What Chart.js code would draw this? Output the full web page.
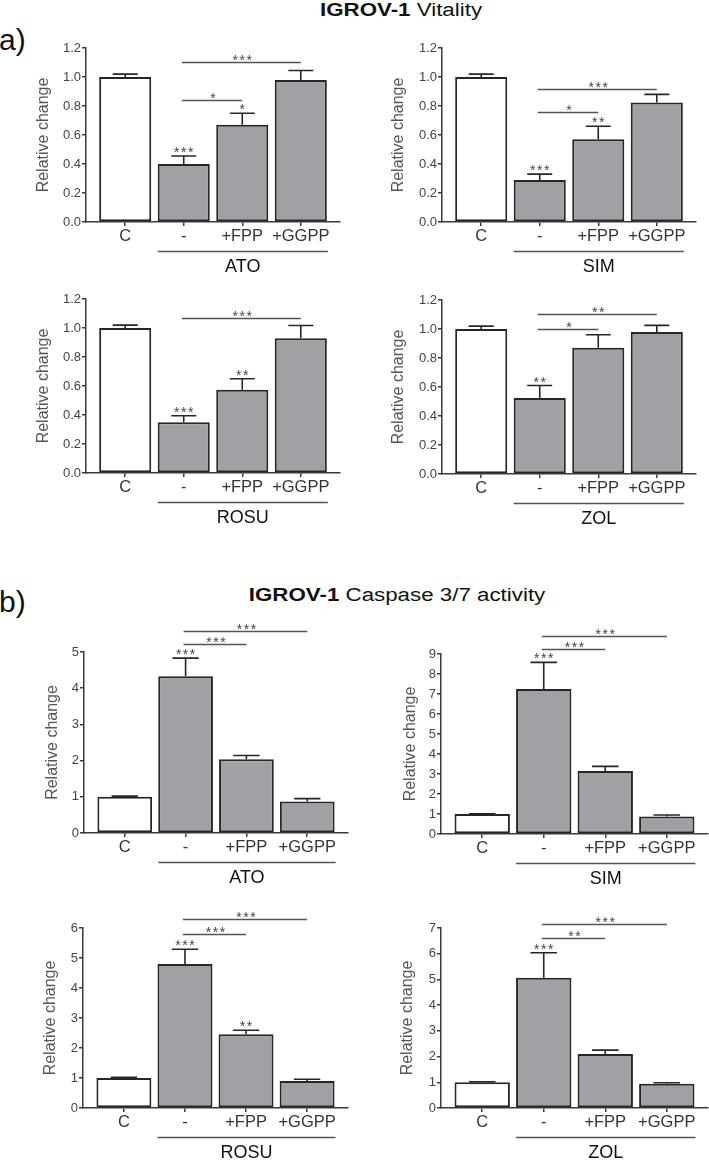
<!DOCTYPE html>
<html>
<head>
<meta charset="utf-8">
<script src="https://cdn.jsdelivr.net/npm/chart.js@4.4.1/dist/chart.umd.min.js"></script>
<style>
  html, body { margin: 0; padding: 0; width: 709px; height: 1161px; overflow: hidden; background: #fff; }
  .panel { position: absolute; }
  .title { position: absolute; font-family: "Liberation Sans", Arial, sans-serif; font-size: 18px; line-height: 18px; color: #111; white-space: nowrap; transform: translateX(-50%) scaleX(1.24); }
  .tag { position: absolute; font-family: "Liberation Sans", Arial, sans-serif; font-size: 30px; line-height: 30px; color: #111; }
</style>
</head>
<body>
<div class="tag" style="left:-1px;top:25px">a)</div>
<div class="title" style="left:401px;top:1px"><b>IGROV-1</b> Vitality</div>
<div class="tag" style="left:-1px;top:587px">b)</div>
<div class="title" style="left:397px;top:586px"><b>IGROV-1</b> Caspase 3/7 activity</div>
<script>
const treatments = ["C", "-", "+FPP", "+GGPP"];

// y tick values
const vitalityTicks = [0, 0.2, 0.4, 0.6, 0.8, 1.0, 1.2];
const caspaseTicksATO = [0, 1, 2, 3, 4, 5];
const caspaseTicksSIM = [0, 1, 2, 3, 4, 5, 6, 7, 8, 9];
const caspaseTicksROSU = [0, 1, 2, 3, 4, 5, 6];
const caspaseTicksZOL = [0, 1, 2, 3, 4, 5, 6, 7];

// vitality (mean, sem)
const vitATO = [1.0, 0.40, 0.67, 0.98];
const vitATOErr = [0.02, 0.055, 0.08, 0.065];
const vitATOStars = ["", "***", "*", ""];
const vitATOBrackets = [[1, 2, 0.84, "*"], [1, 3, 1.10, "***"]];

const vitSIM = [1.0, 0.29, 0.57, 0.825];
const vitSIMErr = [0.02, 0.04, 0.09, 0.055];
const vitSIMStars = ["", "***", "**", ""];
const vitSIMBrackets = [[1, 2, 0.76, "*"], [1, 3, 0.92, "***"]];

const vitROSU = [1.0, 0.35, 0.575, 0.93];
const vitROSUErr = [0.02, 0.045, 0.075, 0.087];
const vitROSUStars = ["", "***", "**", ""];
const vitROSUBrackets = [[1, 3, 1.07, "***"]];

const vitZOL = [1.0, 0.525, 0.87, 0.98];
const vitZOLErr = [0.02, 0.085, 0.09, 0.045];
const vitZOLStars = ["", "**", "", ""];
const vitZOLBrackets = [[1, 2, 1.0, "*"], [1, 3, 1.10, "**"]];

// caspase 3/7 activity
const casATO = [1.0, 4.33, 2.04, 0.87];
const casATOErr = [0.02, 0.5, 0.1, 0.08];
const casATOStars = ["", "***", "", ""];
const casATOBrackets = [[1, 2, 5.22, "***"], [1, 3, 5.58, "***"]];

const casSIM = [1.0, 7.25, 3.15, 0.88];
const casSIMErr = [0.01, 1.33, 0.23, 0.07];
const casSIMStars = ["", "***", "", ""];
const casSIMBrackets = [[1, 2, 9.27, "***"], [1, 3, 9.92, "***"]];

const casROSU = [1.0, 4.80, 2.46, 0.90];
const casROSUErr = [0.02, 0.49, 0.13, 0.06];
const casROSUStars = ["", "***", "**", ""];
const casROSUBrackets = [[1, 2, 5.80, "***"], [1, 3, 6.30, "***"]];

const casZOL = [1.0, 5.07, 2.10, 0.94];
const casZOLErr = [0.02, 0.97, 0.15, 0.04];
const casZOLStars = ["", "***", "", ""];
const casZOLBrackets = [[1, 2, 6.61, "**"], [1, 3, 7.17, "***"]];

const FONT = '"Liberation Sans", Arial, sans-serif';
const axisColor = "#3a3a3a";
const barGray = "#a0a0a5";

const panels = [
  { values: vitATO, errors: vitATOErr, stars: vitATOStars, brackets: vitATOBrackets, group: "ATO", ticks: vitalityTicks, decimals: 1,
    left: 0, width: 354, axisLeft: 86, axisRight: 340, axisTop: 48, axisBottom: 222, titlePad: 34, barPct: 0.89 },
  { values: vitSIM, errors: vitSIMErr, stars: vitSIMStars, brackets: vitSIMBrackets, group: "SIM", ticks: vitalityTicks, decimals: 1,
    left: 355, width: 354, axisLeft: 442, axisRight: 696, axisTop: 48, axisBottom: 222, titlePad: 34, barPct: 0.89 },
  { values: vitROSU, errors: vitROSUErr, stars: vitROSUStars, brackets: vitROSUBrackets, group: "ROSU", ticks: vitalityTicks, decimals: 1,
    left: 0, width: 354, axisLeft: 86, axisRight: 340, axisTop: 299, axisBottom: 473, titlePad: 34, barPct: 0.89 },
  { values: vitZOL, errors: vitZOLErr, stars: vitZOLStars, brackets: vitZOLBrackets, group: "ZOL", ticks: vitalityTicks, decimals: 1,
    left: 355, width: 354, axisLeft: 442, axisRight: 696, axisTop: 300, axisBottom: 474, titlePad: 34, barPct: 0.89 },
  { values: casATO, errors: casATOErr, stars: casATOStars, brackets: casATOBrackets, group: "ATO", ticks: caspaseTicksATO, decimals: 0,
    left: 0, width: 354, axisLeft: 84, axisRight: 348, axisTop: 652, axisBottom: 833, titlePad: 43, barPct: 0.9 },
  { values: casSIM, errors: casSIMErr, stars: casSIMStars, brackets: casSIMBrackets, group: "SIM", ticks: caspaseTicksSIM, decimals: 0,
    left: 355, width: 354, axisLeft: 441, axisRight: 708, axisTop: 654, axisBottom: 834, titlePad: 46, barPct: 0.9 },
  { values: casROSU, errors: casROSUErr, stars: casROSUStars, brackets: casROSUBrackets, group: "ROSU", ticks: caspaseTicksROSU, decimals: 0,
    left: 0, width: 354, axisLeft: 83, axisRight: 348, axisTop: 928, axisBottom: 1108, titlePad: 41, barPct: 0.9 },
  { values: casZOL, errors: casZOLErr, stars: casZOLStars, brackets: casZOLBrackets, group: "ZOL", ticks: caspaseTicksZOL, decimals: 0,
    left: 355, width: 354, axisLeft: 441, axisRight: 708, axisTop: 928, axisBottom: 1108, titlePad: 43, barPct: 0.9 },
];

const PAD_TOP = 45;
const X_HEIGHT = 58;

function drawStars(ctx, text, x, y) {
  ctx.save();
  ctx.font = "14px " + FONT;
  ctx.letterSpacing = "1.5px";
  ctx.textAlign = "center";
  ctx.textBaseline = "alphabetic";
  ctx.fillStyle = "#444";
  ctx.fillText(text, x + 0.75, y);
  ctx.restore();
}

function marksPlugin(p) {
  return {
    id: "marks",
    afterDatasetsDraw(chart) {
      const ctx = chart.ctx;
      const yScale = chart.scales.y;
      const area = chart.chartArea;
      const bars = chart.getDatasetMeta(0).data;
      ctx.save();

      // error bars (upper only) + stars vs control
      ctx.strokeStyle = "#262626";
      ctx.lineWidth = 1.6;
      bars.forEach((bar, i) => {
        const top = yScale.getPixelForValue(p.values[i] + p.errors[i]);
        const cap = bar.width * 0.24;
        ctx.beginPath();
        ctx.moveTo(bar.x, bar.y);
        ctx.lineTo(bar.x, top);
        ctx.moveTo(bar.x - cap, top);
        ctx.lineTo(bar.x + cap, top);
        ctx.stroke();
        if (p.stars[i]) drawStars(ctx, p.stars[i], bar.x, top + 1);
      });

      // comparison brackets
      ctx.strokeStyle = "#555";
      ctx.lineWidth = 1.5;
      p.brackets.forEach(([from, to, level, label]) => {
        const ly = Math.round(yScale.getPixelForValue(level)) + 0.5;
        ctx.beginPath();
        ctx.moveTo(bars[from].x - 2, ly);
        ctx.lineTo(bars[to].x, ly);
        ctx.stroke();
        drawStars(ctx, label, (bars[from].x + bars[to].x) / 2, ly + 2);
      });

      // treatment group line + label
      const b1 = bars[1], b3 = bars[3];
      const x0 = b1.x - b1.width / 2;
      const x1 = b3.x + b3.width / 2 + 1;
      const gy = area.bottom + 29.5;
      ctx.strokeStyle = "#555";
      ctx.beginPath();
      ctx.moveTo(x0, gy);
      ctx.lineTo(x1, gy);
      ctx.stroke();
      ctx.fillStyle = "#111";
      ctx.font = "18px " + FONT;
      ctx.textAlign = "center";
      ctx.textBaseline = "middle";
      ctx.fillText(p.group, (x0 + x1) / 2, area.bottom + 45);
      ctx.restore();
    },
  };
}

function drawPanel(p) {
  const top = p.axisTop - PAD_TOP;
  const height = p.axisBottom - p.axisTop + PAD_TOP + X_HEIGHT;
  const box = document.createElement("div");
  box.className = "panel";
  box.style.left = p.left + "px";
  box.style.top = top + "px";
  box.style.width = p.width + "px";
  box.style.height = height + "px";
  const canvas = document.createElement("canvas");
  box.appendChild(canvas);
  document.body.appendChild(box);

  new Chart(canvas, {
    type: "bar",
    data: {
      datasets: [
        {
          data: p.values.map((v, i) => ({ x: i, y: v })),
          backgroundColor: p.values.map((v, i) => (i === 0 ? "#ffffff" : barGray)),
          borderColor: "#262626",
          borderWidth: 2,
          borderSkipped: false,
          categoryPercentage: 1,
          barPercentage: p.barPct,
        },
      ],
    },
    options: {
      responsive: true,
      maintainAspectRatio: false,
      animation: false,
      layout: {
        padding: { top: PAD_TOP, left: 0, right: p.left + p.width - p.axisRight, bottom: 0 },
      },
      plugins: {
        legend: { display: false },
        tooltip: { enabled: false },
      },
      scales: {
        x: {
          type: "linear",
          min: -0.67,
          max: 3.67,
          offset: false,
          afterBuildTicks: (s) => {
            s.ticks = treatments.map((t, i) => ({ value: i }));
          },
          afterFit: (s) => {
            s.height = X_HEIGHT;
          },
          grid: { drawOnChartArea: false, drawTicks: true, tickLength: 4, color: axisColor, lineWidth: 1.5, offset: false },
          border: { display: true, color: axisColor, width: 1.5 },
          ticks: {
            callback: (v) => treatments[v],
            autoSkip: false,
            maxRotation: 0,
            padding: 1,
            color: "#333",
            font: { family: FONT, size: 16.5 },
          },
        },
        y: {
          min: 0,
          max: p.ticks[p.ticks.length - 1],
          afterBuildTicks: (s) => {
            s.ticks = p.ticks.map((v) => ({ value: v }));
          },
          afterFit: (s) => {
            s.width = p.axisLeft - p.left;
          },
          grid: { drawOnChartArea: false, drawTicks: true, tickLength: 4, color: axisColor, lineWidth: 1.5 },
          border: { display: true, color: axisColor, width: 1.5 },
          ticks: {
            callback: (v) => Number(v).toFixed(p.decimals),
            padding: 1,
            color: "#444",
            font: { family: FONT, size: 13 },
          },
          title: {
            display: true,
            text: "Relative change",
            color: "#555",
            font: { family: FONT, size: 16 },
            padding: { top: p.titlePad, bottom: 0 },
          },
        },
      },
    },
    plugins: [marksPlugin(p)],
  });
}

panels.forEach(drawPanel);
</script>
</body>
</html>
